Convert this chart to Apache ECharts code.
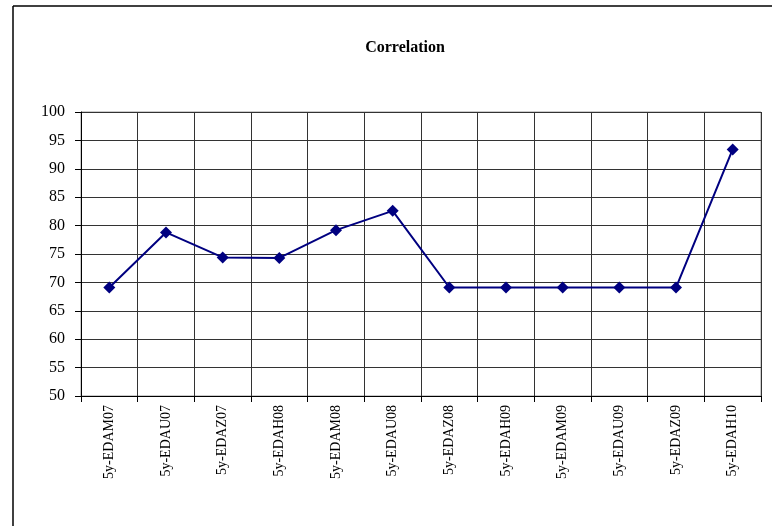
<!DOCTYPE html>
<html>
<head>
<meta charset="utf-8">
<script src="https://cdn.jsdelivr.net/npm/echarts@6/dist/echarts.min.js"></script>
<style>html,body{margin:0;padding:0;background:#fff}#c{width:772px;height:526px}</style>
</head>
<body>
<div id="c"></div>
<script>
const categories = ['5y-EDAM07','5y-EDAU07','5y-EDAZ07','5y-EDAH08','5y-EDAM08','5y-EDAU08','5y-EDAZ08','5y-EDAH09','5y-EDAM09','5y-EDAU09','5y-EDAZ09','5y-EDAH10'];
const correlation = [69.1, 78.8, 74.4, 74.3, 79.2, 82.6, 69.1, 69.1, 69.1, 69.1, 69.1, 93.4];
const titleText = 'Correlation';

const chart = echarts.init(document.getElementById('c'));
chart.setOption({
  backgroundColor: '#fff',
  animation: false,
  title: {
    text: titleText, left: 400, top: 35, textAlign: 'center',
    textStyle: {fontFamily: 'Liberation Serif', fontWeight: 'bold', fontSize: 16, color: '#000'}
  },
  graphic: [
    {type: 'line', shape: {x1: 13, y1: 6, x2: 13, y2: 526}, style: {stroke: '#000', lineWidth: 1.5}},
    {type: 'line', shape: {x1: 13, y1: 6, x2: 772, y2: 6}, style: {stroke: '#000', lineWidth: 1.5}}
  ],
  grid: {left: 81, right: 11, top: 112, bottom: 130, show: true, borderColor: '#999', borderWidth: 1},
  xAxis: {
    type: 'category', data: categories, boundaryGap: true,
    axisLine: {lineStyle: {color: '#000', width: 1}},
    axisTick: {show: true, length: 6, lineStyle: {color: '#000'}},
    splitLine: {show: true, lineStyle: {color: '#333', width: 1}},
    axisLabel: {rotate: 90, margin: 9, fontFamily: 'Liberation Serif', fontSize: 14, color: '#000', interval: 0}
  },
  yAxis: {
    type: 'value', min: 50, max: 100, interval: 5,
    axisLine: {show: true, lineStyle: {color: '#000', width: 1}},
    axisTick: {show: true, length: 6, lineStyle: {color: '#000'}},
    splitLine: {show: true, lineStyle: {color: '#333', width: 1}},
    axisLabel: {margin: 16, fontFamily: 'Liberation Serif', fontSize: 16, color: '#000'}
  },
  series: [{
    type: 'line', data: correlation,
    symbol: 'diamond', symbolSize: 12,
    lineStyle: {color: '#000080', width: 2},
    itemStyle: {color: '#000080'}
  }]
});
</script>
</body>
</html>
